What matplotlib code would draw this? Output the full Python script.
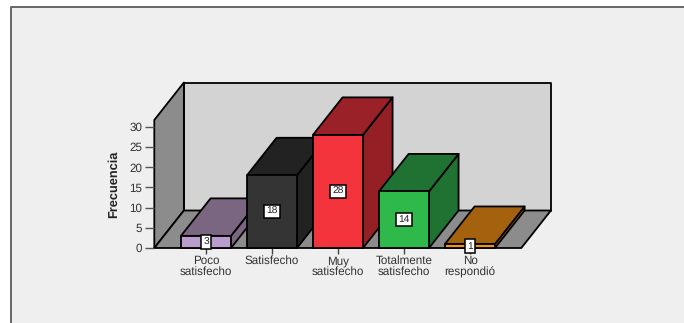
import matplotlib
matplotlib.use('Agg')
from matplotlib import pyplot as plt
from matplotlib.patches import Polygon, Rectangle

plt.rcParams['font.family'] = ['Liberation Sans', 'DejaVu Sans']
plt.rcParams['text.hinting'] = 'none'

categories = ['Poco\nsatisfecho', 'Satisfecho', 'Muy\nsatisfecho', 'Totalmente\nsatisfecho', 'No\nrespondió']
values = [3, 18, 28, 14, 1]
front_colors = ['#b89ccb', '#343434', '#f4343c', '#2fb94b', '#f2921e']
top_colors = ['#7b6681', '#222222', '#9a2128', '#1f7232', '#a4620f']
side_colors = ['#7b6681', '#222222', '#942026', '#1f7232', '#a4620f']
y_ticks = [0, 5, 10, 15, 20, 25, 30]

W, H = 684, 323
fig = plt.figure(figsize=(W / 100, H / 100), dpi=100, facecolor='white')

# panel with only its left and top edges dark
bg = fig.add_axes([0, 0, 1, 1], zorder=0)
bg.set_xlim(0, W)
bg.set_ylim(H, 0)
bg.axis('off')
bg.add_patch(Rectangle((11, 7), W, H, fc='#efefef', ec='none'))
bg.plot([11, 11, W], [H, 7, 7], color='#666666', lw=1.4, solid_capstyle='butt')

# front plane of the 3d box
ax = fig.add_axes([154.3 / W, 1 - 248 / H, 367 / W, 128 / H], zorder=1)
ax.set_xlim(-0.783, -0.783 + 367 / 66)
ax.set_ylim(0, 128 / 4.04)
ax.patch.set_visible(False)
for s in ax.spines.values():
    s.set_visible(False)

x0, x1 = ax.get_xlim()
y0, y1 = ax.get_ylim()
dx = 29.6 / 66
dy = 37.5 / 4.04
edge = dict(ec='black', lw=1.3, joinstyle='round', clip_on=False)

ax.add_patch(Polygon([(x0 + dx, y0 + dy), (x1 + dx, y0 + dy), (x1 + dx, y1 + dy), (x0 + dx, y1 + dy)],
                     fc='#d3d3d3', zorder=1, **edge))
ax.add_patch(Polygon([(x0, y0), (x0 + dx, y0 + dy), (x0 + dx, y1 + dy), (x0, y1)],
                     fc='#8c8c8c', zorder=1, **edge))
ax.add_patch(Polygon([(x0, y0), (x1, y0), (x1 + dx, y0 + dy), (x0 + dx, y0 + dy)],
                     fc='#8c8c8c', zorder=1, **edge))

bar_w = 50 / 66
for i, v in enumerate(values):
    l, r = i - bar_w / 2, i + bar_w / 2
    z = 2 + i
    ax.add_patch(Polygon([(r, 0), (r + dx, dy), (r + dx, v + dy), (r, v)],
                         fc=side_colors[i], zorder=z, **edge))
    ax.add_patch(Polygon([(l, v), (r, v), (r + dx, v + dy), (l + dx, v + dy)],
                         fc=top_colors[i], zorder=z, **edge))
    ax.add_patch(Polygon([(l, 0), (r, 0), (r, v), (l, v)],
                         fc=front_colors[i], zorder=z, **edge))
    ax.text(i, v / 2, str(v), ha='center', va='center', fontsize=7.4, color='#222222', zorder=20,
            bbox=dict(boxstyle='square,pad=0.2', fc='white', ec='black', lw=1.1))

ax.set_yticks(y_ticks)
ax.set_xticks(range(len(categories)))
ax.set_xticklabels(categories, linespacing=0.93)
ax.tick_params(axis='y', length=6.5, width=1, color='#555555', labelsize=8.4, labelcolor='#333333', pad=2)
ax.tick_params(axis='x', length=4.5, width=1, color='#444444', labelsize=8.4, labelcolor='#333333', pad=1)
ax.set_ylabel('Frecuencia', fontsize=9.2, fontweight='bold', color='#222222', labelpad=7)

fig.savefig('out.png', dpi=100, facecolor=fig.get_facecolor())
